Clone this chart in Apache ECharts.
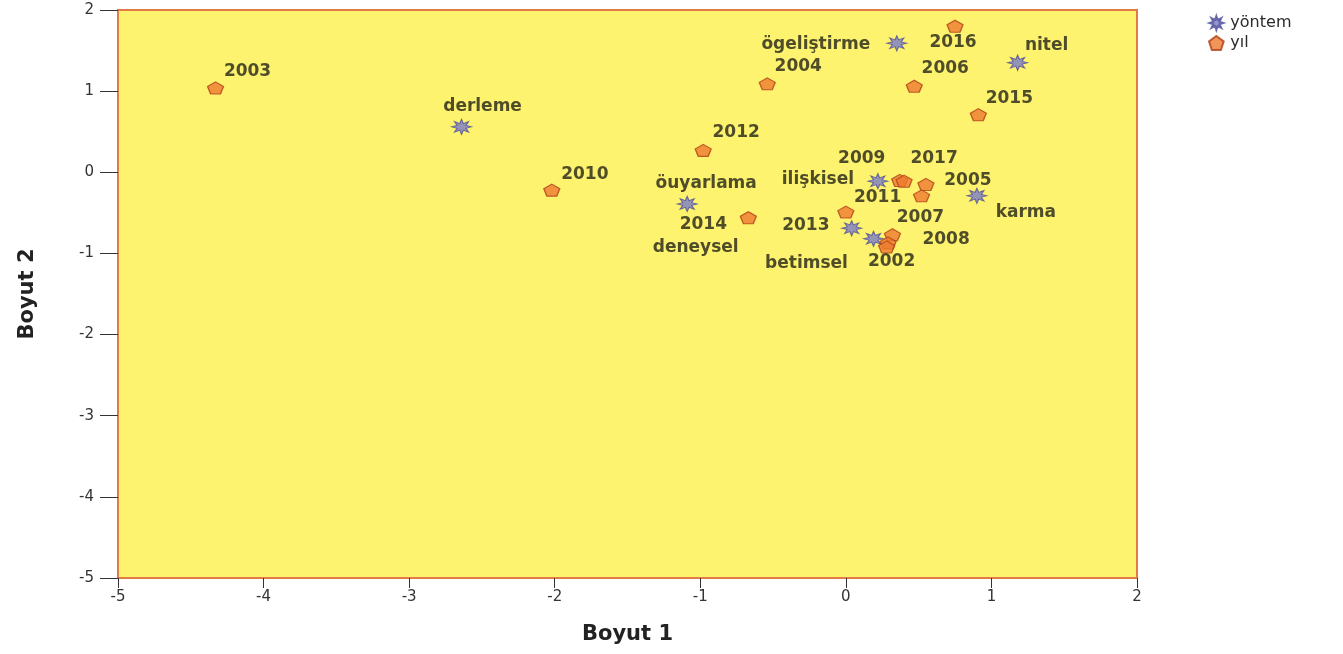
<!DOCTYPE html>
<html>
<head>
<meta charset="utf-8">
<script src="https://cdn.jsdelivr.net/npm/echarts@6/dist/echarts.min.js"></script>
<style>html,body{margin:0;padding:0;background:#fff;}#c{width:1343px;height:654px;}</style>
</head>
<body>
<div id="c"></div>
<script>
// ---- data ----
const yilNames = ['2003','2010','2012','2004','2016','2006','2015','2014','2009','2017','2005','2011','2013','2007','2008','2002'];
const yilX = [-4.33,-2.02,-0.98,-0.54,0.75,0.47,0.91,-0.67,0.37,0.40,0.55,0.52,0.00,0.32,0.29,0.28];
const yilY = [1.04,-0.22,0.27,1.09,1.80,1.06,0.71,-0.56,-0.10,-0.11,-0.15,-0.29,-0.49,-0.77,-0.87,-0.92];

const yontemNames = ['derleme','ögeliştirme','nitel','ilişkisel','karma','öuyarlama','deneysel','betimsel'];
const yontemX = [-2.64,0.35,1.18,0.22,0.90,-1.09,0.04,0.19];
const yontemY = [0.56,1.59,1.35,-0.11,-0.29,-0.39,-0.69,-0.82];

const xTicks = [-5,-4,-3,-2,-1,0,1,2];
const yTicks = [-5,-4,-3,-2,-1,0,1,2];

// ---- style: label offsets (px) relative to marker ----
const labelOffsets = {
  '2003':[32,-16],'2010':[33,-16],'2012':[33,-18],'2004':[31,-17],'2016':[-2,16],'2006':[31,-18],
  '2015':[31,-16],'2014':[-45,7],'2009':[-38,-22],'2017':[30,-23],'2005':[42,-4],'2011':[-44,2],
  '2013':[-40,14],'2007':[28,-17],'2008':[58,-3],'2002':[5,15],
  'derleme':[21,-20],'ögeliştirme':[-81,1],'nitel':[29,-17],'ilişkisel':[-60,-2],'karma':[49,17],
  'öuyarlama':[19,-20],'deneysel':[-156,19],'betimsel':[-67,25]
};

function starPath(n, ro, ri) {
  let d = '';
  for (let i = 0; i < 2 * n; i++) {
    const r = i % 2 === 0 ? ro : ri;
    const a = Math.PI * i / n - Math.PI / 2;
    const x = (50 + r * Math.cos(a)).toFixed(2), y = (50 + r * Math.sin(a)).toFixed(2);
    d += (i === 0 ? 'M' : 'L') + x + ' ' + y + ' ';
  }
  return 'path://' + d + 'Z';
}
function pentPath() {
  let d = '';
  for (let i = 0; i < 5; i++) {
    const a = 2 * Math.PI * i / 5 - Math.PI / 2;
    d += (i === 0 ? 'M' : 'L') + (50 + 50 * Math.cos(a)).toFixed(2) + ' ' + (50 + 50 * Math.sin(a)).toFixed(2) + ' ';
  }
  return 'path://' + d + 'Z';
}
const STAR = starPath(8, 50, 24);
const PENT = pentPath();

const labelFont = {fontFamily:'DejaVu Sans', fontWeight:'bold', fontSize:17, color:'#222218', textBorderWidth:0, textBorderColor:'transparent', textShadowBlur:0};

function build(names, xs, ys) {
  return names.map((n, i) => ({
    name: n,
    value: [xs[i], ys[i]],
    label: Object.assign({show:true, position:'inside', formatter:n, offset:labelOffsets[n]}, labelFont)
  }));
}

const chart = echarts.init(document.getElementById('c'));
chart.setOption({
  animation:false,
  backgroundColor:'#ffffff',
  grid:{left:118, right:206, top:10, bottom:76, show:true, backgroundColor:'#fdf36e', borderColor:'#e27a45', borderWidth:2},
  legend:{
    orient:'vertical', left:1203, top:10, itemGap:4, itemWidth:18, itemHeight:14,
    textStyle:{fontFamily:'DejaVu Sans', fontSize:16, color:'#2b2b2b'},
    data:['yöntem','yıl']
  },
  xAxis:{
    type:'value', min:-5, max:2, interval:1,
    name:'Boyut 1', nameLocation:'middle', nameGap:46,
    nameTextStyle:{fontFamily:'DejaVu Sans', fontWeight:'bold', fontSize:21, color:'#222'},
    axisLine:{show:true, onZero:false, lineStyle:{color:'#e27a45', width:2}},
    axisTick:{show:true, length:10, lineStyle:{color:'#333'}},
    axisLabel:{fontFamily:'DejaVu Sans', fontSize:15, color:'#333', margin:12, formatter:v => xTicks.includes(v) ? String(v) : ''},
    splitLine:{show:false}
  },
  yAxis:{
    type:'value', min:-5, max:2, interval:1,
    name:'Boyut 2', nameLocation:'middle', nameGap:80, nameRotate:90,
    nameTextStyle:{fontFamily:'DejaVu Sans', fontWeight:'bold', fontSize:21, color:'#222'},
    axisLine:{show:true, onZero:false, lineStyle:{color:'#e27a45', width:2}},
    axisTick:{show:true, length:18, lineStyle:{color:'#333'}},
    axisLabel:{fontFamily:'DejaVu Sans', fontSize:15, color:'#333', margin:24, formatter:v => yTicks.includes(v) ? String(v) : ''},
    splitLine:{show:false}
  },
  series:[
    {
      name:'yöntem', type:'scatter', symbol:STAR, symbolSize:[20,15],
      itemStyle:{color:'#7b7bc8', borderColor:'#4f4f9a', borderWidth:1},
      data:build(yontemNames, yontemX, yontemY), z:3
    },
    {
      name:'yıl', type:'scatter', symbol:PENT, symbolSize:[16,12],
      itemStyle:{color:'#ee7a30', borderColor:'#b0401a', borderWidth:1.2},
      data:build(yilNames, yilX, yilY), z:4
    }
  ]
});
</script>
</body>
</html>
